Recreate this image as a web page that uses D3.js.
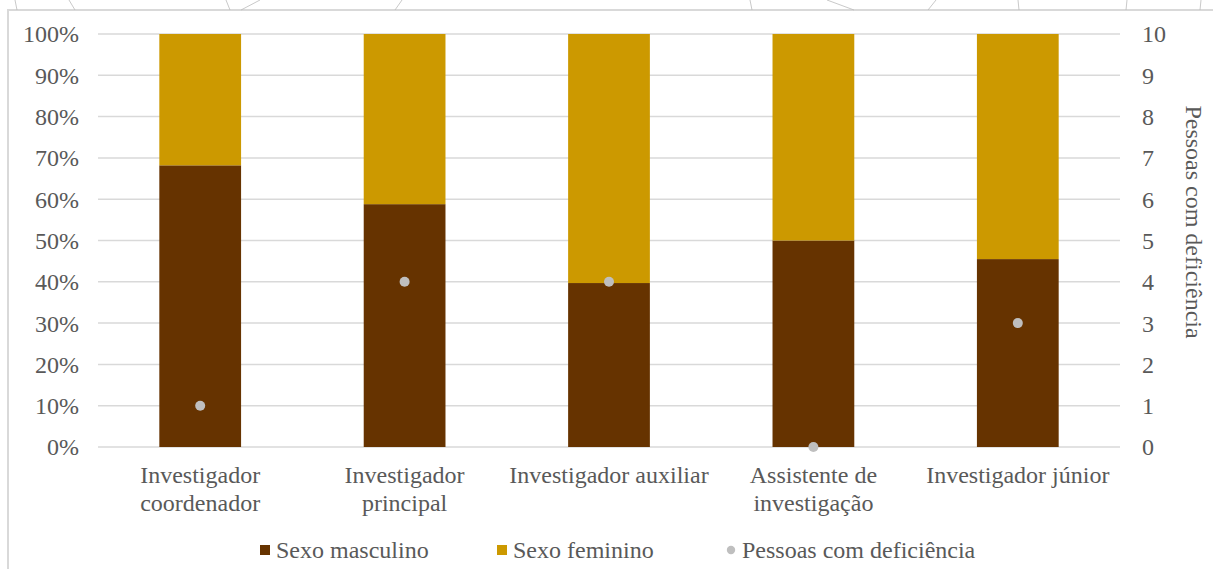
<!DOCTYPE html>
<html><head><meta charset="utf-8">
<script src="https://cdn.jsdelivr.net/npm/d3@7"></script>
<style>body{margin:0;background:#fff;}svg{display:block;} text{font-family:"Liberation Serif", serif;}</style>
</head><body>
<svg id="c" width="1213" height="569"></svg>
<script>
const categories = [["Investigador","coordenador"],["Investigador","principal"],["Investigador auxiliar"],["Assistente de","investigação"],["Investigador júnior"]];
const male = [0.682, 0.588, 0.397, 0.50, 0.455];
const female = male.map(v => 1 - v);
const disabled = [1, 4, 4, 0, 3];
const leftTicks = [0,0.1,0.2,0.3,0.4,0.5,0.6,0.7,0.8,0.9,1.0];
const rightTicks = [0,1,2,3,4,5,6,7,8,9,10];
const seriesNames = ["Sexo masculino","Sexo feminino","Pessoas com deficiência"];
const colors = ["#663300","#CC9900","#BFBFBF"];

const svg = d3.select("#c");
const fs = 24;
const txt = "#595959";

// frame (chart border fragments)
svg.append("path").attr("d","M8,569 L8,10 L1213,10").attr("fill","none").attr("stroke","#d9d9d9").attr("stroke-width",2);
// stray thin strokes above border
const strays = [[15,0,17,10],[69,0,75,10],[226,0,230,10],[241,10,260,0],[395,10,402,0],[750,0,752,10],[827,0,854,10],[928,10,936,0],[1018,0,1019,10],[1126,10,1127,0],[1200,10,1201,0]];
svg.selectAll("line.stray").data(strays).join("line").attr("class","stray")
  .attr("x1",d=>d[0]).attr("y1",d=>d[1]).attr("x2",d=>d[2]).attr("y2",d=>d[3])
  .attr("stroke","#bbb").attr("stroke-width",0.8);

const x0 = 98, x1 = 1120, yTop = 34, yBot = 447;
const x = d3.scaleBand().domain(d3.range(categories.length)).range([x0,x1]).paddingInner(0.6).paddingOuter(0.3);
const y = d3.scaleLinear().domain([0,1]).range([yBot,yTop]);
const y2 = d3.scaleLinear().domain([0,10]).range([yBot,yTop]);

// gridlines
svg.append("g").selectAll("line").data(leftTicks).join("line")
  .attr("x1",x0).attr("x2",x1).attr("y1",d=>y(d)).attr("y2",d=>y(d))
  .attr("stroke","#d9d9d9").attr("stroke-width",1.5);

// left axis
const la = svg.append("g").attr("transform",`translate(${79},0)`)
  .call(d3.axisLeft(y).tickValues(leftTicks).tickFormat(d3.format(".0%")).tickSize(0).tickPadding(0));
la.select(".domain").remove();
la.selectAll("text").attr("font-family",null).attr("font-size",fs).attr("fill",txt).attr("dy","0.33em");

// right axis
const ra = svg.append("g").attr("transform",`translate(${1142},0)`)
  .call(d3.axisRight(y2).tickValues(rightTicks).tickFormat(d3.format("d")).tickSize(0).tickPadding(0));
ra.select(".domain").remove();
ra.selectAll("text").attr("font-family",null).attr("font-size",fs).attr("fill",txt).attr("dy","0.33em");

// right title
svg.append("text").attr("transform","translate(1186,222) rotate(90)")
  .attr("text-anchor","middle").attr("font-size",fs).attr("fill",txt)
  .text("Pessoas com deficiência");

// bars
const g = svg.append("g");
g.selectAll("rect.m").data(male).join("rect").attr("class","m")
  .attr("x",(d,i)=>x(i)).attr("width",x.bandwidth())
  .attr("y",d=>y(d)).attr("height",d=>y(0)-y(d)).attr("fill",colors[0]);
g.selectAll("rect.f").data(female).join("rect").attr("class","f")
  .attr("x",(d,i)=>x(i)).attr("width",x.bandwidth())
  .attr("y",(d,i)=>y(male[i]+d)).attr("height",d=>y(0)-y(d)).attr("fill",colors[1]);

// dots
g.selectAll("circle").data(disabled).join("circle")
  .attr("cx",(d,i)=>x(i)+x.bandwidth()/2).attr("cy",d=>y2(d)).attr("r",5).attr("fill",colors[2]);

// category labels
const cl = svg.append("g");
categories.forEach((lines,i)=>{
  const t = cl.append("text").attr("x",x(i)+x.bandwidth()/2).attr("y",483)
    .attr("text-anchor","middle").attr("font-size",fs).attr("fill",txt);
  lines.forEach((l,j)=>t.append("tspan").attr("x",x(i)+x.bandwidth()/2).attr("dy",j?28:0).text(l));
});

// legend
const lg = svg.append("g");
const lx = [260, 497, 727];
lg.append("rect").attr("x",lx[0]).attr("y",545).attr("width",10).attr("height",10).attr("fill",colors[0]);
lg.append("rect").attr("x",lx[1]).attr("y",545).attr("width",10).attr("height",10).attr("fill",colors[1]);
lg.append("circle").attr("cx",lx[2]+4).attr("cy",550).attr("r",4.2).attr("fill",colors[2]);
seriesNames.forEach((s,i)=>{
  lg.append("text").attr("x",lx[i]+(i===2?15:16)).attr("y",558).attr("font-size",fs).attr("fill",txt).text(s);
});
</script>
</body></html>
